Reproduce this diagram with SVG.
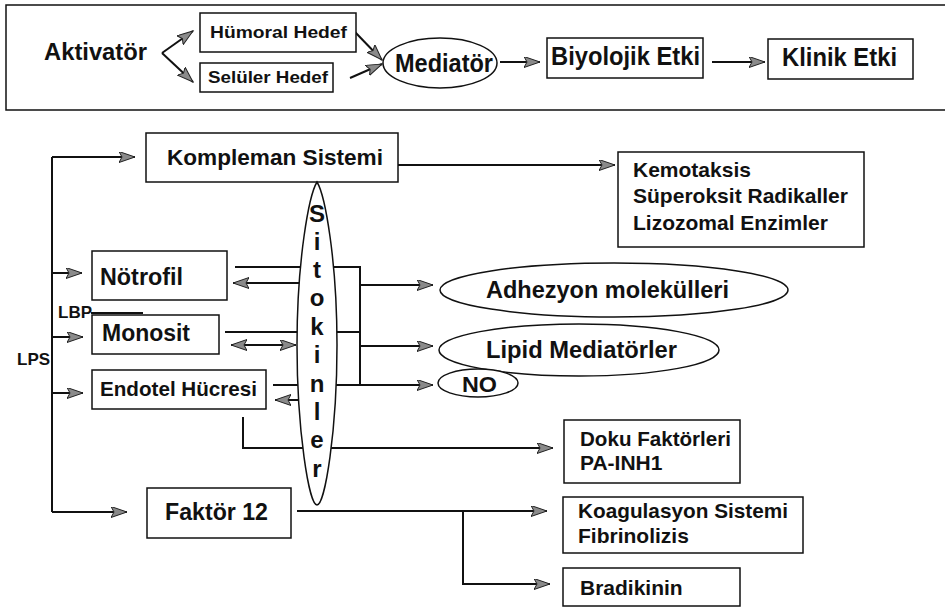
<svg xmlns="http://www.w3.org/2000/svg" width="945" height="610" viewBox="0 0 945 610">
<style>
.box{fill:#fff;stroke:#111;stroke-width:1.5}
.t{font-family:"Liberation Sans",Arial,sans-serif;font-weight:bold;fill:#111}
.tn{font-family:"Liberation Sans Narrow","Liberation Sans",Arial,sans-serif;font-weight:bold;fill:#111}
.ln{fill:none;stroke:#111;stroke-width:2}
.ar{fill:none;stroke:#111;stroke-width:2;marker-end:url(#ah)}
.ar2{fill:none;stroke:#111;stroke-width:2;marker-end:url(#ah);marker-start:url(#ah)}
.sl{font-family:"Liberation Sans",Arial,sans-serif;font-weight:bold;font-size:24px;fill:#111;text-anchor:middle}
</style>
<defs>
<marker id="ah" markerUnits="userSpaceOnUse" markerWidth="18" markerHeight="12" refX="16" refY="5.5" orient="auto-start-reverse" viewBox="0 0 18 12">
<path d="M0,0 L16,5.5 L0,11 L3,5.5 z" fill="#8a8a8a" stroke="#222" stroke-width="1"/>
</marker>
</defs>
<rect width="945" height="610" fill="#fff"/>

<!-- top panel frame -->
<path d="M950,5 H6 V110 H950" fill="none" stroke="#111" stroke-width="1.5"/>

<g id="connectors">
<!-- top panel -->
<path class="ar" d="M162,53 L193,31"/>
<path class="ar" d="M162,53 L193,82"/>
<path class="ar" d="M355,32 L382,60"/>
<path class="ar" d="M350,78 L382,64"/>
<path class="ar" d="M500,62 H540"/>
<path class="ar" d="M712,62 H765"/>
<!-- trunk -->
<path class="ln" d="M52,157 V512"/>
<path class="ar" d="M52,157 H135"/>
<path class="ar" d="M52,273 H82"/>
<path class="ar" d="M52,337 H83"/>
<path class="ar" d="M52,393 H83"/>
<path class="ar" d="M52,512 H127"/>
<line class="ln" x1="91" y1="313" x2="143" y2="313"/>
<!-- kompleman -->
<path class="ar" d="M398,165 H615"/>
<!-- cells to cytokines -->
<path class="ln" d="M235,267 H360 V385"/>
<path class="ln" d="M225,332 H360"/>
<path class="ar" d="M273,385 H433"/>
<path class="ar" d="M300,283 H233"/>
<path class="ar2" d="M231,345 H296"/>
<path class="ar" d="M300,400 H275"/>
<path class="ar" d="M360,285 H433"/>
<path class="ar" d="M360,346 H433"/>
<path class="ar" d="M243,417 V448 H553"/>
<!-- faktor 12 -->
<path class="ar" d="M297,511 H547"/>
<path class="ar" d="M463,511 V584 H550"/>
</g>

<g id="aktivator"><text class="tn" x="44" y="60" font-size="24" textLength="103" lengthAdjust="spacingAndGlyphs">Aktivatör</text></g>
<g id="humoral"><rect class="box" x="200" y="13" width="156" height="39"/><text class="tn" x="210" y="38" font-size="17" textLength="137" lengthAdjust="spacingAndGlyphs">Hümoral Hedef</text></g>
<g id="seluler"><rect class="box" x="200" y="63" width="133" height="29"/><text class="tn" x="208" y="83" font-size="17" textLength="120" lengthAdjust="spacingAndGlyphs">Selüler Hedef</text></g>
<g id="mediator"><ellipse class="box" cx="440" cy="63" rx="57" ry="25"/><text class="tn" x="395" y="72" font-size="25" textLength="98" lengthAdjust="spacingAndGlyphs">Mediatör</text></g>
<g id="biyolojik"><rect class="box" x="547" y="38" width="156" height="40"/><text class="tn" x="551" y="65" font-size="25" textLength="149" lengthAdjust="spacingAndGlyphs">Biyolojik Etki</text></g>
<g id="klinik"><rect class="box" x="768" y="39" width="145" height="40"/><text class="tn" x="782" y="66" font-size="25" textLength="115" lengthAdjust="spacingAndGlyphs">Klinik Etki</text></g>

<g id="kompleman"><rect class="box" x="146" y="133" width="252" height="49"/><text class="t" x="167" y="165" font-size="22" textLength="216" lengthAdjust="spacingAndGlyphs">Kompleman Sistemi</text></g>
<g id="kemotaksis"><rect class="box" x="618" y="152" width="246" height="95"/>
<text class="t" x="633" y="177" font-size="21">Kemotaksis</text>
<text class="t" x="633" y="203" font-size="21" textLength="215" lengthAdjust="spacingAndGlyphs">Süperoksit Radikaller</text>
<text class="t" x="633" y="230" font-size="21">Lizozomal Enzimler</text></g>

<g id="lps"><text class="t" x="17" y="365" font-size="17">LPS</text></g>
<g id="lbp"><text class="t" x="58" y="318" font-size="17">LBP</text></g>

<g id="notrofil"><rect class="box" x="92" y="251" width="135" height="49"/><text class="t" x="100" y="285" font-size="23" textLength="83" lengthAdjust="spacingAndGlyphs">Nötrofil</text></g>
<g id="monosit"><rect class="box" x="92" y="315" width="127" height="39"/><text class="t" x="102" y="341" font-size="23" textLength="88" lengthAdjust="spacingAndGlyphs">Monosit</text></g>
<g id="endotel"><rect class="box" x="92" y="370" width="174" height="39"/><text class="t" x="100" y="396" font-size="21" textLength="157" lengthAdjust="spacingAndGlyphs">Endotel Hücresi</text></g>

<g id="sitokinler"><path class="box" d="M317,182 C309,195 297,260 297,345 C297,430 309,505 317,505 C325,505 337,430 337,345 C337,260 325,195 317,182 Z"/>
<text class="sl" x="317" y="222">S</text>
<text class="sl" x="317" y="250">i</text>
<text class="sl" x="317" y="278">t</text>
<text class="sl" x="317" y="306">o</text>
<text class="sl" x="317" y="335">k</text>
<text class="sl" x="317" y="363">i</text>
<text class="sl" x="317" y="392">n</text>
<text class="sl" x="317" y="420">l</text>
<text class="sl" x="317" y="448">e</text>
<text class="sl" x="317" y="477">r</text></g>

<g id="adhezyon"><ellipse class="box" cx="614" cy="290" rx="174" ry="27"/><text class="t" x="486" y="298" font-size="23" textLength="243" lengthAdjust="spacingAndGlyphs">Adhezyon molekülleri</text></g>
<g id="lipid"><ellipse class="box" cx="579" cy="350" rx="140" ry="26"/><text class="t" x="486" y="358" font-size="23" textLength="191" lengthAdjust="spacingAndGlyphs">Lipid Mediatörler</text></g>
<g id="no"><ellipse class="box" cx="478" cy="383" rx="40" ry="14"/><text class="t" x="462" y="392" font-size="22" textLength="35" lengthAdjust="spacingAndGlyphs">NO</text></g>

<g id="doku"><rect class="box" x="564" y="420" width="176" height="63"/>
<text class="t" x="580" y="446" font-size="21" textLength="151" lengthAdjust="spacingAndGlyphs">Doku Faktörleri</text>
<text class="t" x="580" y="470" font-size="21">PA-INH1</text></g>
<g id="faktor12"><rect class="box" x="147" y="488" width="144" height="50"/><text class="t" x="165" y="520" font-size="23" textLength="103" lengthAdjust="spacingAndGlyphs">Faktör 12</text></g>
<g id="koagulasyon"><rect class="box" x="563" y="497" width="240" height="56"/>
<text class="t" x="578" y="518" font-size="21" textLength="210" lengthAdjust="spacingAndGlyphs">Koagulasyon Sistemi</text>
<text class="t" x="578" y="543" font-size="21">Fibrinolizis</text></g>
<g id="bradikinin"><rect class="box" x="563" y="568" width="177" height="38"/><text class="t" x="580" y="595" font-size="21">Bradikinin</text></g>
</svg>
